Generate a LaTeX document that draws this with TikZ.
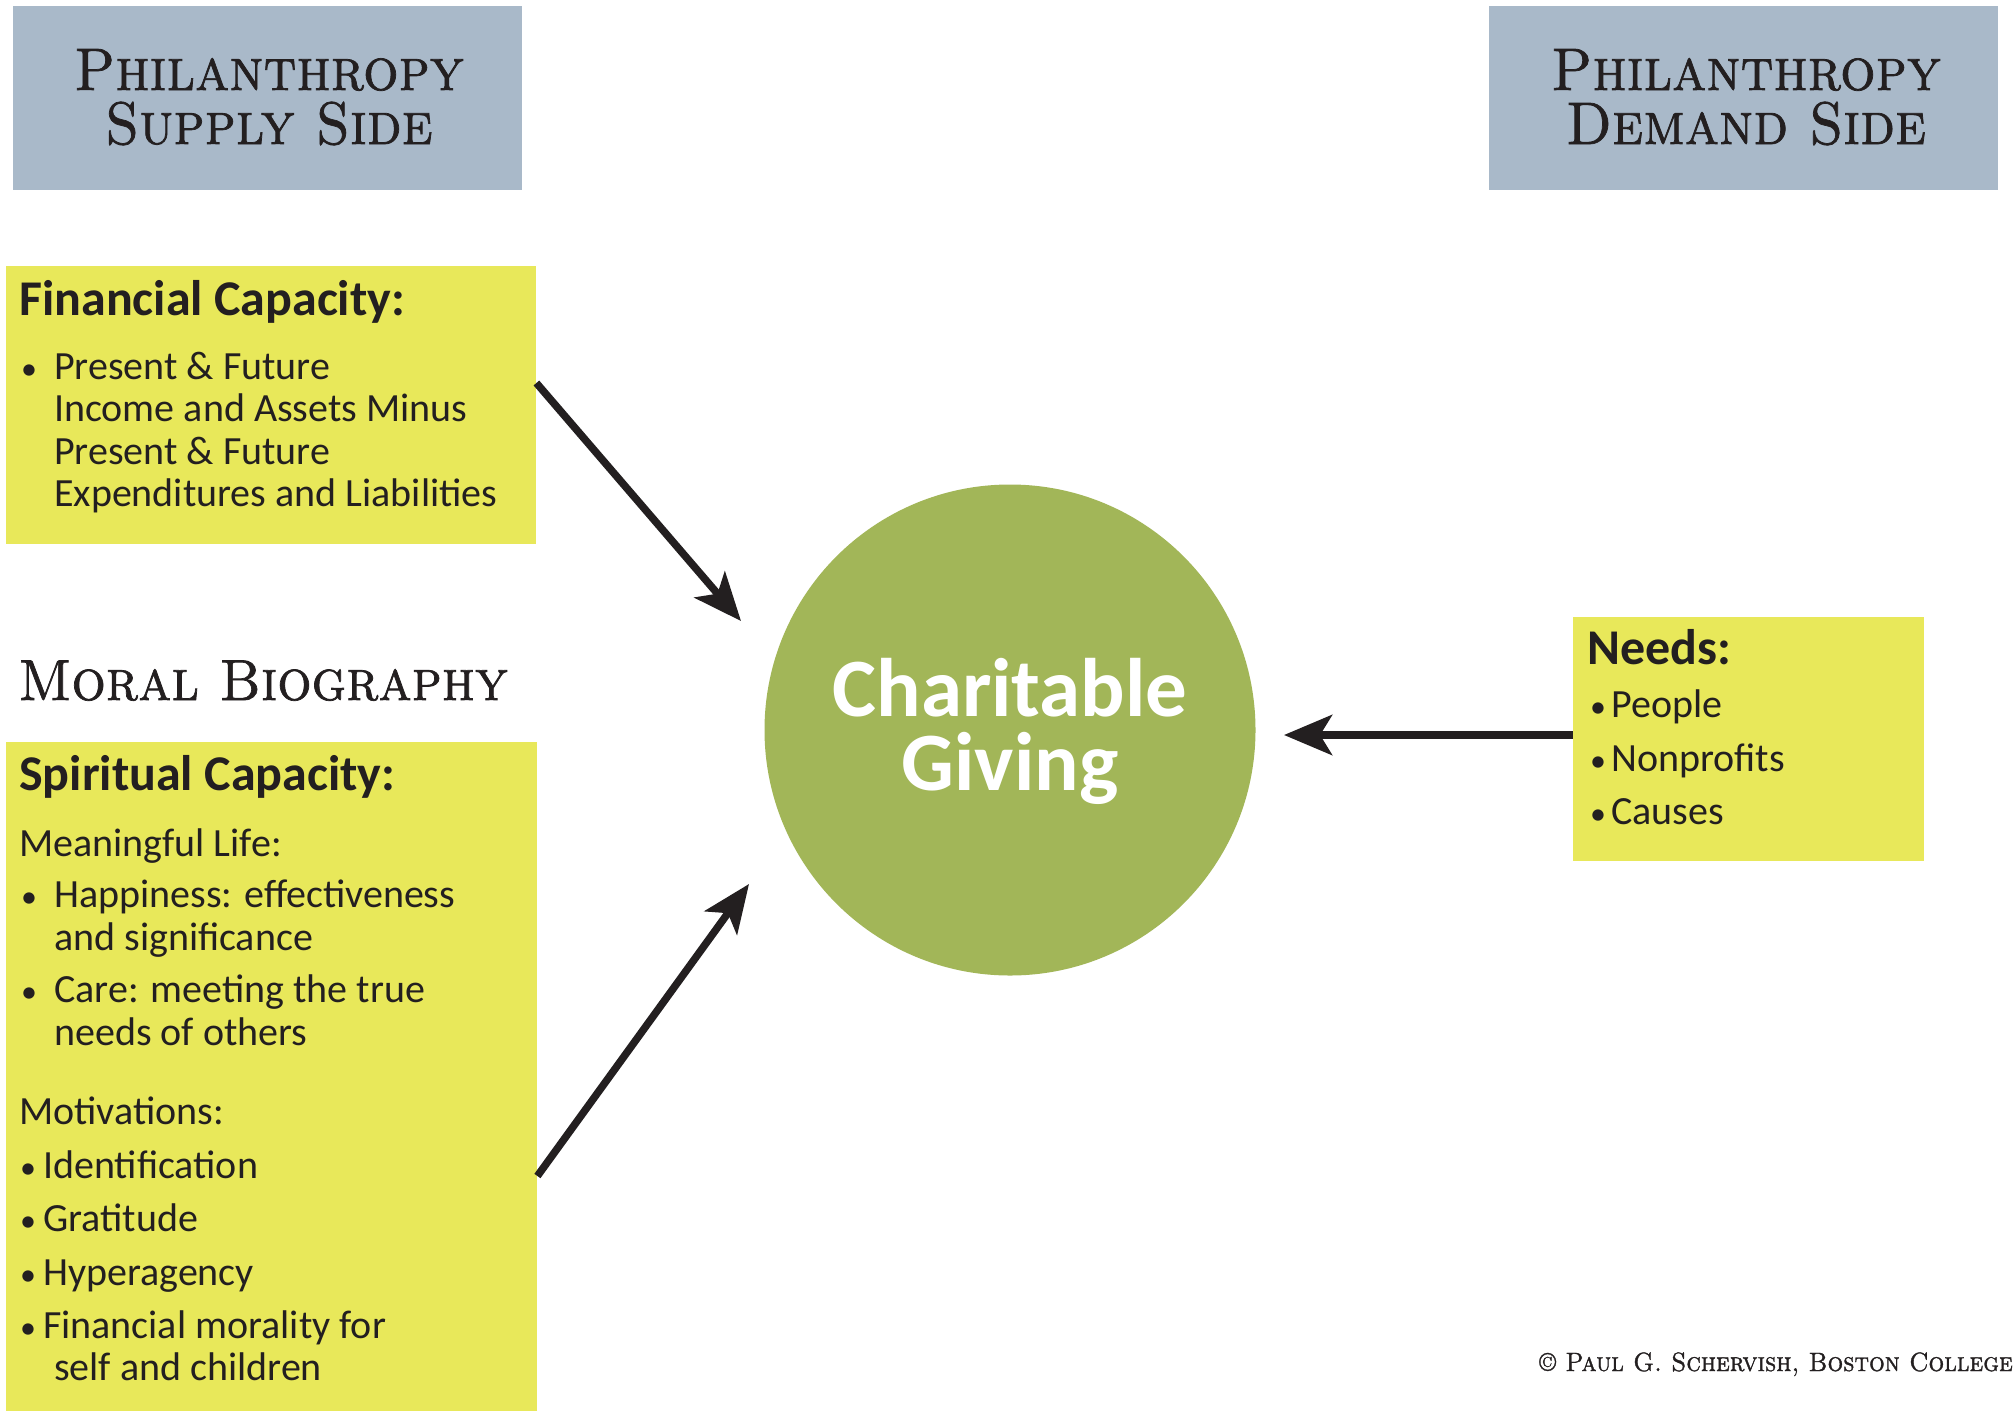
\documentclass[tikz,border=0pt]{standalone}
\usepackage{fontspec}
\newfontfamily\bodyfont{Carlito}
\newfontfamily\scfont{lmromancaps10-regular.otf}[FakeStretch=0.93, FakeBold=1.2]
\usetikzlibrary{arrows.meta}
\definecolor{hdr}{HTML}{A9B9C9}
\definecolor{ylw}{HTML}{E8E85A}
\definecolor{grn}{HTML}{A2B658}
\definecolor{ink}{HTML}{231F20}
\tikzset{
  hdrbox/.style={fill=hdr, draw=none, anchor=north west, inner sep=0pt},
  ybox/.style={fill=ylw, draw=none, anchor=north west, inner sep=0pt},
  txt/.style={anchor=base west, inner sep=0pt, text=ink, font=\bodyfont\fontsize{40}{48}\selectfont},
  bul/.style={anchor=base west, inner sep=0pt, text=ink, font=\bodyfont\fontsize{32}{40}\selectfont},
  headtxt/.style={anchor=base west, inner sep=0pt, text=ink, font=\bodyfont\bfseries\fontsize{50}{60}\selectfont},
  sctxt/.style={anchor=base, inner sep=0pt, text=ink, align=center, font=\scfont\fontsize{60}{54}\selectfont},
  circtxt/.style={anchor=base, inner sep=0pt, text=white, align=center, font=\bodyfont\bfseries\fontsize{83}{74}\selectfont},
  arr/.style={draw=ink, line width=7.5pt, -{Stealth[length=48pt,width=40pt,inset=12pt]}}
}
\begin{document}
\begin{tikzpicture}[x=1pt,y=-1pt]
\useasboundingbox[fill=white] (0,0) rectangle (2015,1411);
% header boxes
\node[hdrbox, minimum width=509pt, minimum height=184pt] (supply) at (13,6) {};
\node[hdrbox, minimum width=509pt, minimum height=184pt] (demand) at (1489,6) {};
\node[sctxt] (suptxt) at (269,144) {Philanthropy\\Supply Side};
\node[sctxt] (demtxt) at (1746,144) {Philanthropy\\Demand Side};
% yellow boxes
\node[ybox, minimum width=530pt, minimum height=278pt] (fin) at (6,266) {};
\node[ybox, minimum width=531pt, minimum height=669pt] (spir) at (6,742) {};
\node[ybox, minimum width=351pt, minimum height=244pt] (needs) at (1573,617) {};
% circle
\node[circle, fill=grn, draw=none, minimum size=491pt, inner sep=0pt] (cg) at (1010,730) {};
\node[circtxt] (cgtxt) at (1010,790) {Charitable\\Giving};
% financial text
\node[headtxt] (finh) at (19,315) {Financial Capacity:};
\node[bul] (finb) at (21,379) {•};
\node[txt] (fin1) at (54,379) {Present \& Future};
\node[txt] (fin2) at (54,421) {Income and Assets Minus};
\node[txt] (fin3) at (54,464) {Present \& Future};
\node[txt] (fin4) at (54,506) {Expenditures and Liabilities};
% moral biography
\node[anchor=base west, inner sep=0pt, text=ink, font=\scfont\fontsize{58}{64}\selectfont] (moral) at (18,700) {Moral Biography};
% spiritual text
\node[headtxt] (spih) at (19,790) {Spiritual Capacity:};
\node[txt] (spim) at (19,856) {Meaningful Life:};
\node[bul] (spib1) at (21,907) {•};
\node[txt] (spi1) at (54,907) {Happiness: effectiveness};
\node[txt] (spi2) at (54,950) {and significance};
\node[bul] (spib2) at (21,1002) {•};
\node[txt] (spi3) at (54,1002) {Care: meeting the true};
\node[txt] (spi4) at (54,1045) {needs of others};
\node[txt] (spimo) at (19,1124) {Motivations:};
\node[bul] (spib3) at (20,1178) {•};
\node[txt] (spi5) at (43,1178) {Identification};
\node[bul] (spib4) at (20,1231) {•};
\node[txt] (spi6) at (43,1231) {Gratitude};
\node[bul] (spib5) at (20,1285) {•};
\node[txt] (spi7) at (43,1285) {Hyperagency};
\node[bul] (spib6) at (20,1338) {•};
\node[txt] (spi8) at (43,1338) {Financial morality for};
\node[txt] (spi9) at (54,1380) {self and children};
% needs text
\node[headtxt] (needh) at (1587,664) {Needs:};
\node[bul] (needb1) at (1590,717) {•};
\node[txt] (need1) at (1611,717) {People};
\node[bul] (needb2) at (1590,771) {•};
\node[txt] (need2) at (1611,771) {Nonprofits};
\node[bul] (needb3) at (1590,824) {•};
\node[txt] (need3) at (1611,824) {Causes};
% copyright
\node[anchor=base east, inner sep=0pt, text=ink, font=\scfont\fontsize{26.5}{30}\selectfont] (copy) at (2013,1371) {\textcopyright\ Paul G. Schervish, Boston College};
% arrows
\coordinate (a1s) at (fin.east |- 0,383);
\coordinate (a1e) at (741,621);
\coordinate (a2s) at (spir.east |- 0,1176);
\coordinate (a2e) at (749,884);
\coordinate (a3s) at (needs.west |- 0,735);
\coordinate (a3e) at (1284,735);
\draw[arr] (a1s) -- (a1e);
\draw[arr] (a2s) -- (a2e);
\draw[arr] (a3s) -- (a3e);
\end{tikzpicture}
\end{document}
